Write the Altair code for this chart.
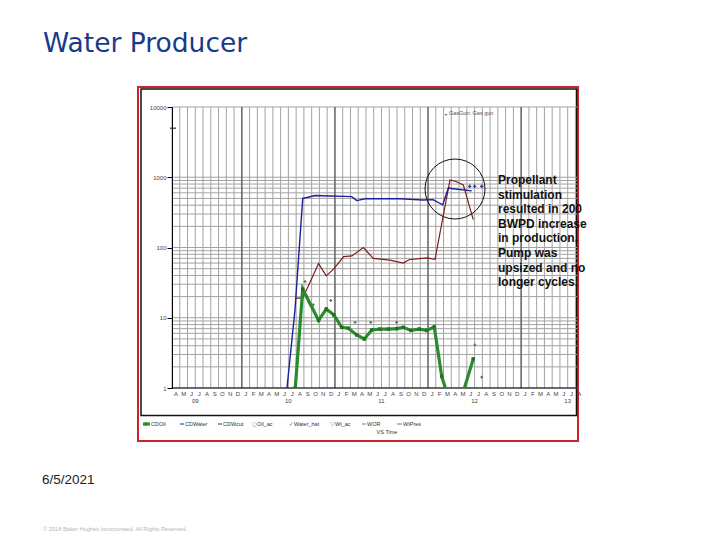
import altair as alt
import pandas as pd

# ---------------- data ----------------
# time as decimal years, rates on a log axis
water_t = [2010.485, 2010.571, 2010.654, 2010.70, 2010.786, 2010.947, 2011.108, 2011.180,
           2011.234, 2011.323, 2011.699, 2011.946, 2012.053, 2012.158, 2012.218, 2012.271, 2012.469]
water_v = [1, 13, 500, 515, 550, 540, 535, 530, 465, 495, 495, 475, 480, 405, 700, 685, 640]

wcut_t = [2010.574, 2010.654, 2010.824, 2010.907, 2010.987, 2011.094, 2011.183, 2011.305, 2011.412,
          2011.592, 2011.734, 2011.796, 2011.986, 2012.075, 2012.236, 2012.300, 2012.379, 2012.486]
wcut_v = [19, 19, 59, 39.5, 49.5, 74, 76, 100, 70, 66, 60, 67, 71, 68, 917, 870, 780, 250]

oil_t = [2010.574, 2010.654, 2010.824, 2010.907, 2010.987, 2011.073, 2011.144, 2011.234, 2011.316,
         2011.395, 2011.484, 2011.573, 2011.664, 2011.734, 2011.817, 2011.906, 2011.986, 2012.067,
         2012.147, 2012.258, 2012.322, 2012.486]
oil_v = [1, 25.5, 9.2, 13.3, 11, 7.3, 7.1, 5.7, 5.0, 6.7, 6.9, 6.9, 7.0, 7.3, 6.6, 6.9, 6.6, 7.4,
         1.46, 0.5, 0.5, 2.6]

oilac_t = [2010.679, 2010.767, 2010.955, 2011.216, 2011.384, 2011.663, 2012.504, 2012.577]
oilac_v = [32.8, 15.3, 17.6, 8.6, 8.6, 8.6, 4.1, 1.43]

whats_t = [2012.447, 2012.50, 2012.577]
whats_v = [742, 742, 742]

gasgun_t = [2012.193]
gasgun_v = [7700]
gasgun_label = ["GasGun: Gas gun"]

y_ticks = [1, 10, 100, 1000, 10000]
y_grid = [1, 2, 3, 4, 5, 6, 7, 8, 9, 10, 20, 30, 40, 50, 60, 70, 80, 90,
          100, 200, 300, 400, 500, 600, 700, 800, 900, 1000, 10000]
y_minor = [5000]
month_letters = ["J", "F", "M", "A", "M", "J", "J", "A", "S", "O", "N", "D"]
year_labels = ["09", "10", "11", "12", "13"]
legend_names = ["CDOil", "CDWater", "CDWcut", "Oil_ac", "Water_hat", "Wt_ac", "WOR", "WtPres"]
note_lines = ["Propellant", "stimulation", "resulted in 200", "BWPD increase",
              "in production.", "Pump was", "upsized and no", "longer cycles."]

# ---------------- layout helpers ----------------
W, H = 405, 281
def ax(x):
    return x - 172
def ay(y):
    return y - 107

one = pd.DataFrame({"z": [0]})
FONT = "Liberation Sans"

xs = alt.Scale(domain=[2009.25, 2013.6], nice=False, zero=False)
ys = alt.Scale(type="log", domain=[1, 10000], nice=False)
yaxis = alt.Axis(values=y_ticks, format="d", title=None, grid=False, domainColor="#000",
                 tickColor="#000", tickSize=5, labelFontSize=6, labelColor="#444",
                 labelFont=FONT, labelPadding=1, zindex=2)

def X():
    return alt.X("t:Q", scale=xs, axis=None)
def Y():
    return alt.Y("v:Q", scale=ys, axis=yaxis)

# month grid / labels (axis structure)
n_months = 53
month_t = [2009.25 + k / 12 for k in range(n_months)]
month_df = pd.DataFrame({
    "t": month_t,
    "jan": [((k + 3) % 12 == 0) for k in range(n_months)],
})
mlab_df = pd.DataFrame({
    "t": [2009.25 + (k + 0.5) / 12 for k in range(n_months)],
    "lab": [month_letters[(k + 3) % 12] for k in range(n_months)],
})
ylab_df = pd.DataFrame({"t": [2009.5 + i for i in range(len(year_labels))], "lab": year_labels})

layers = []

# frame and panel
layers.append(alt.Chart(one).mark_rect(fillOpacity=0, stroke="#cc2229", strokeWidth=2).encode(
    x=alt.value(ax(138)), x2=alt.value(ax(578)), y=alt.value(ay(87)), y2=alt.value(ay(441))))
layers.append(alt.Chart(one).mark_rect(fillOpacity=0, stroke="#111", strokeWidth=1.5).encode(
    x=alt.value(ax(141)), x2=alt.value(ax(576.5)), y=alt.value(ay(89)), y2=alt.value(ay(415.5))))

# grids
layers.append(alt.Chart(pd.DataFrame({"v": y_grid})).mark_rule(color="#a3a3a3", strokeWidth=1).encode(
    y=Y(), x=alt.value(0), x2=alt.value(W)))
layers.append(alt.Chart(month_df).mark_rule().encode(
    x=X(), y=alt.value(0), y2=alt.value(H),
    color=alt.condition("datum.jan", alt.value("#6a6a6a"), alt.value("#a3a3a3")),
    strokeWidth=alt.condition("datum.jan", alt.value(1.6), alt.value(1))))
layers.append(alt.Chart(pd.DataFrame({"v": y_minor})).mark_rule(color="#000").encode(
    y=Y(), x=alt.value(-2), x2=alt.value(4)))
layers.append(alt.Chart(one).mark_rule(color="#000", strokeWidth=1).encode(
    x=alt.value(0), x2=alt.value(W), y=alt.value(H)))

# month and year labels
layers.append(alt.Chart(mlab_df).mark_text(fontSize=6, font=FONT, color="#444", baseline="middle").encode(
    x=X(), y=alt.value(H + 6), text="lab:N"))
layers.append(alt.Chart(ylab_df).mark_text(fontSize=6, font=FONT, color="#444", baseline="middle").encode(
    x=X(), y=alt.value(H + 12.5), text="lab:N"))

# series
wcut_df = pd.DataFrame({"t": wcut_t, "v": wcut_v})
water_df = pd.DataFrame({"t": water_t, "v": water_v})
oil_df = pd.DataFrame({"t": oil_t, "v": oil_v})
layers.append(alt.Chart(wcut_df).mark_line(color="#7a1d1d", strokeWidth=1.2, clip=True).encode(x=X(), y=Y()))
layers.append(alt.Chart(water_df).mark_line(color="#1f1f9c", strokeWidth=1.4, clip=True).encode(x=X(), y=Y()))
layers.append(alt.Chart(oil_df).mark_line(color="#2b8a2b", strokeWidth=3.2, clip=True).encode(x=X(), y=Y()))
layers.append(alt.Chart(oil_df).mark_point(shape="square", filled=True, size=12, color="#217321",
                                           opacity=1, clip=True).encode(x=X(), y=Y()))
layers.append(alt.Chart(pd.DataFrame({"t": oilac_t, "v": oilac_v})).mark_point(
    shape="cross", filled=True, size=8, color="#4f6f4f", opacity=1).encode(x=X(), y=Y()))
layers.append(alt.Chart(pd.DataFrame({"t": whats_t, "v": whats_v})).mark_point(
    shape="cross", filled=True, size=12, color="#3a3aa8", opacity=1).encode(x=X(), y=Y()))
gg = pd.DataFrame({"t": gasgun_t, "v": gasgun_v, "lab": gasgun_label})
layers.append(alt.Chart(gg).mark_point(shape="triangle-down", filled=True, size=6, color="#555",
                                       opacity=1).encode(x=X(), y=Y()))
layers.append(alt.Chart(gg).mark_text(fontSize=5.5, font=FONT, color="#555", align="left", dx=3,
                                      dy=-2).encode(x=X(), y=Y(), text="lab:N"))

# circle highlight and note
layers.append(alt.Chart(one).mark_point(shape="circle", size=3600, filled=False, stroke="#111",
                                        strokeWidth=1, opacity=1).encode(
    x=alt.value(ax(455)), y=alt.value(ay(189))))
layers.append(alt.Chart(one).mark_text(font=FONT, fontSize=12, fontWeight="bold", color="#111",
                                       align="left", baseline="alphabetic", lineHeight=14.6).encode(
    x=alt.value(ax(498)), y=alt.value(ay(184)), text=alt.value(note_lines)))

# legend (inside the panel, below the plot)
leg_y = ay(424)
leg_pos = [(143, 151), (180, 185), (218, 223), (252, 257), (289, 294), (330, 335), (362, 367), (397, 403)]
leg_col = ["#2b8a2b", "#1f1f9c", "#7a1d1d", "#777", "#555", "#3aa0c8", "#777", "#777"]
for i, name in enumerate(legend_names):
    sx, tx = leg_pos[i]
    if i in (3, 4, 5):
        sym = ["\u25cb", "\u2713", "\u25bd"][i - 3]
        layers.append(alt.Chart(one).mark_text(fontSize=5.5, font="DejaVu Sans", color=leg_col[i],
                                               baseline="middle", align="left").encode(
            x=alt.value(ax(sx)), y=alt.value(leg_y), text=alt.value(sym)))
    else:
        layers.append(alt.Chart(one).mark_rule(color=leg_col[i], strokeWidth=3 if i == 0 else 1).encode(
            x=alt.value(ax(sx)), x2=alt.value(ax(tx - 1)), y=alt.value(leg_y)))
        if i == 0:
            layers.append(alt.Chart(one).mark_point(shape="square", filled=True, size=10,
                                                    color=leg_col[0], opacity=1).encode(
                x=alt.value(ax(146)), y=alt.value(leg_y)))
    layers.append(alt.Chart(one).mark_text(fontSize=5.5, font=FONT, color="#333", align="left",
                                           baseline="middle").encode(
        x=alt.value(ax(tx)), y=alt.value(leg_y), text=alt.value(name)))
layers.append(alt.Chart(one).mark_text(fontSize=5.5, font=FONT, color="#333", baseline="middle").encode(
    x=alt.value(ax(387)), y=alt.value(ay(432)), text=alt.value("VS Time")))

# slide texts
layers.append(alt.Chart(one).mark_text(font="DejaVu Sans", fontSize=26.5, color="#173a8a", align="left",
                                       baseline="alphabetic").encode(
    x=alt.value(ax(43)), y=alt.value(ay(52)), text=alt.value("Water Producer")))
layers.append(alt.Chart(one).mark_text(font=FONT, fontSize=13.5, color="#222", align="left",
                                       baseline="alphabetic").encode(
    x=alt.value(ax(42)), y=alt.value(ay(484)), text=alt.value("6/5/2021")))
layers.append(alt.Chart(one).mark_text(font=FONT, fontSize=5.7, color="#b5b5b5", align="left",
                                       baseline="alphabetic").encode(
    x=alt.value(ax(43)), y=alt.value(ay(531)),
    text=alt.value("\u00a9 2018 Baker Hughes Incorporated. All Rights Reserved.")))

chart = alt.layer(*layers).properties(
    width=W, height=H,
    autosize=alt.AutoSizeParams(type="none"),
    padding={"left": 164, "top": 99, "right": 135, "bottom": 144},
    background="white",
).configure_view(strokeWidth=0)

chart.save("out.html", embed_options={"renderer": "svg", "actions": False})
